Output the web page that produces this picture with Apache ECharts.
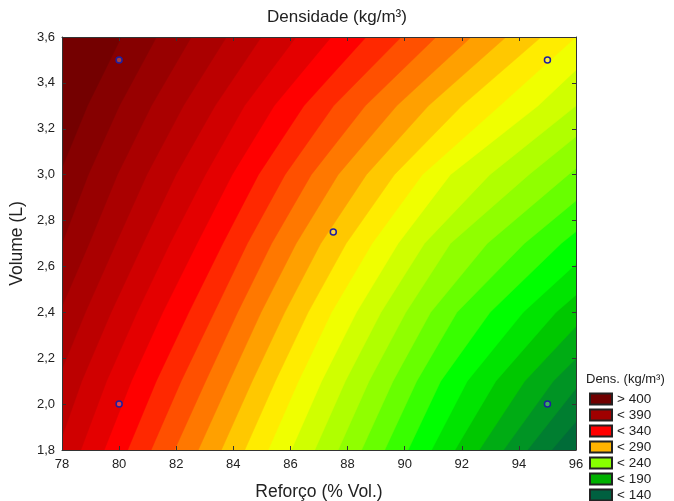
<!DOCTYPE html>
<html>
<head>
<meta charset="utf-8">
<script src="https://cdn.jsdelivr.net/npm/echarts@6/dist/echarts.min.js"></script>
<style>
html,body{margin:0;padding:0;background:#fff;}
#chart{width:674px;height:501px;}
</style>
</head>
<body>
<div id="chart"></div>
<script>
// ---- data ----
// contour levels (kg/m³)
const levels = [140,150,160,170,180,190,200,210,220,230,240,250,260,270,280,290,300,310,320,330,340,350,360,370,380,390,400];
// volume rows at which each contour's Reforço position was read
const volumeRows = [1.8, 2.1, 2.4, 2.7, 3.0, 3.3, 3.6];
// Reforço (% Vol.) where each contour level crosses each volume row
const contourX = [
  [96.00, 98.20, 101.09, 104.54, 108.10, 110.67, 111.92],
  [95.15, 97.20, 99.94, 103.24, 106.73, 109.33, 110.69],
  [94.30, 96.20, 98.78, 101.95, 105.35, 108.00, 109.47],
  [93.46, 95.20, 97.62, 100.66, 103.98, 106.67, 108.24],
  [92.61, 94.20, 96.46, 99.36, 102.60, 105.33, 107.02],
  [91.76, 93.19, 95.30, 98.07, 101.23, 104.00, 105.80],
  [90.94, 92.19, 94.15, 96.78, 99.85, 102.67, 104.57],
  [90.12, 91.26, 92.99, 95.48, 98.48, 101.33, 103.35],
  [89.30, 90.42, 91.83, 94.19, 97.10, 100.00, 102.12],
  [88.49, 89.59, 90.91, 92.89, 95.73, 98.67, 100.90],
  [87.67, 88.75, 90.04, 91.60, 94.35, 97.33, 99.67],
  [86.85, 87.92, 89.17, 90.69, 92.98, 96.00, 98.45],
  [86.03, 87.09, 88.31, 89.77, 91.60, 94.67, 97.22],
  [85.22, 86.28, 87.44, 88.86, 90.62, 93.33, 96.00],
  [84.40, 85.47, 86.62, 87.95, 89.64, 92.00, 94.78],
  [83.58, 84.66, 85.80, 87.06, 88.66, 90.83, 93.55],
  [82.77, 83.86, 84.97, 86.20, 87.67, 89.72, 92.33],
  [81.94, 83.03, 84.15, 85.34, 86.73, 88.62, 91.10],
  [81.12, 82.17, 83.33, 84.49, 85.81, 87.51, 89.88],
  [80.30, 81.30, 82.44, 83.63, 84.88, 86.47, 88.65],
  [79.48, 80.43, 81.53, 82.73, 83.96, 85.43, 87.43],
  [78.66, 79.56, 80.63, 81.78, 83.02, 84.39, 86.20],
  [77.84, 78.69, 79.72, 80.84, 81.99, 83.36, 84.98],
  [77.01, 77.83, 78.82, 79.89, 80.97, 82.25, 83.76],
  [76.19, 76.96, 77.91, 78.95, 79.94, 81.13, 82.53],
  [75.37, 76.09, 77.00, 78.00, 78.92, 80.01, 81.31],
  [74.55, 75.22, 76.10, 77.05, 77.90, 78.89, 80.08]
];
// experimental design points
const designReforco = [80, 80, 87.5, 95, 95];
const designVolume  = [2.0, 3.5, 2.75, 2.0, 3.5];
// legend entries
const legendLabels = ['> 400', '< 390', '< 340', '< 290', '< 240', '< 190', '< 140'];

// ---- styles ----
const bandColors = ['#006c38','#007e30','#009424','#00ac14','#00c800','#00e400','#00ff00','#38ff00','#68ff00','#90ff00','#b0ff00','#d0ff00','#f0ff00','#ffec00','#ffc800','#ffa000','#ff7800','#ff5000','#ff2800','#ff0000','#e40000','#d00000','#bc0000','#aa0000','#980000','#860000','#740000'];
const belowColor = '#005c3c';
const legendColors = ['#700000','#a00000','#ff0000','#ffb400','#88ff00','#00b000','#006040'];
const FONT = "'Liberation Sans', Arial, Helvetica, sans-serif";
const TXT = '#222';

const chart = echarts.init(document.getElementById('chart'), null, {renderer: 'canvas'});

const xMin = 78, xMax = 96, yMin = 1.8, yMax = 3.6;

const bandSeries = {
  type: 'custom',
  coordinateSystem: 'cartesian2d',
  xAxisIndex: 0, yAxisIndex: 0,
  clip: true,
  silent: true,
  z: 1,
  data: levels.map((L, i) => [i, L]),
  renderItem: function (params, api) {
    const i = params.dataIndex;
    const xs = contourX[i];
    const pts = xs.map((x, r) => api.coord([x, volumeRows[r]]));
    const farLeft = xMin - (xMax - xMin);
    pts.push(api.coord([farLeft, volumeRows[volumeRows.length - 1]]));
    pts.push(api.coord([farLeft, volumeRows[0]]));
    return {
      type: 'polygon',
      shape: { points: pts },
      style: { fill: bandColors[i], stroke: bandColors[i], lineWidth: 0.5 }
    };
  }
};

const designSeries = {
  type: 'scatter',
  xAxisIndex: 0, yAxisIndex: 0,
  symbol: 'circle',
  symbolSize: 6,
  silent: true,
  itemStyle: { color: 'rgba(255,255,255,0.25)', borderColor: '#1e1ea0', borderWidth: 1.5, opacity: 1 },
  data: designReforco.map((x, i) => [x, designVolume[i]]),
  z: 5
};

const legendSeries = legendLabels.map((name, i) => ({
  type: 'scatter',
  name: name,
  data: [],
  itemStyle: { color: legendColors[i], borderColor: '#222', borderWidth: 1, opacity: 1 }
}));

const axisLineStyle = { show: true, lineStyle: { color: '#333', width: 1 } };
const tickStyle = { show: true, inside: true, length: 4, lineStyle: { color: '#333' } };

const option = {
  animation: false,
  backgroundColor: '#fff',
  title: [
    { text: 'Densidade (kg/m³)', left: 'center', top: 9, padding: 0,
      textStyle: { fontFamily: FONT, fontSize: 17, fontWeight: 'normal', color: TXT } },
    { text: 'Dens. (kg/m³)', left: 586, top: 373, padding: 0,
      textStyle: { fontFamily: FONT, fontSize: 13, fontWeight: 'normal', color: TXT } }
  ],
  grid: { left: 62, top: 37, width: 514, height: 413, show: true, backgroundColor: belowColor, borderWidth: 0,
          containLabel: false, outerBoundsMode: 'none' },
  xAxis: [
    { type: 'value', min: xMin, max: xMax, interval: 2, position: 'bottom', z: 10,
      name: 'Reforço (% Vol.)', nameLocation: 'middle', nameGap: 33,
      nameTextStyle: { fontFamily: FONT, fontSize: 17.5, color: TXT },
      axisLine: axisLineStyle, axisTick: tickStyle,
      axisLabel: { margin: 8, fontFamily: FONT, fontSize: 13, color: TXT },
      splitLine: { show: false } },
    { type: 'value', min: xMin, max: xMax, interval: 2, position: 'top', z: 10,
      axisLine: axisLineStyle, axisTick: tickStyle, axisLabel: { show: false }, splitLine: { show: false } }
  ],
  yAxis: [
    { type: 'value', min: yMin, max: yMax, interval: 0.2, position: 'left', z: 10,
      name: 'Volume (L)', nameLocation: 'middle', nameGap: 36, nameRotate: 90,
      nameTextStyle: { fontFamily: FONT, fontSize: 17.5, color: TXT },
      axisLine: axisLineStyle, axisTick: tickStyle,
      axisLabel: { margin: 7, fontFamily: FONT, fontSize: 13, color: TXT,
        formatter: v => v.toFixed(1).replace('.', ',') },
      splitLine: { show: false } },
    { type: 'value', min: yMin, max: yMax, interval: 0.2, position: 'right', z: 10,
      axisLine: axisLineStyle, axisTick: tickStyle, axisLabel: { show: false }, splitLine: { show: false } }
  ],
  legend: {
    orient: 'vertical', left: 589, top: 391, height: 140, padding: 0, itemGap: 0,
    itemWidth: 22, itemHeight: 11, icon: 'rect', selectedMode: false,
    itemStyle: { opacity: 1 },
    textStyle: { fontFamily: FONT, fontSize: 13.5, color: TXT, lineHeight: 16 },
    data: legendLabels
  },
  series: [bandSeries, designSeries].concat(legendSeries)
};

chart.setOption(option);
</script>
</body>
</html>
